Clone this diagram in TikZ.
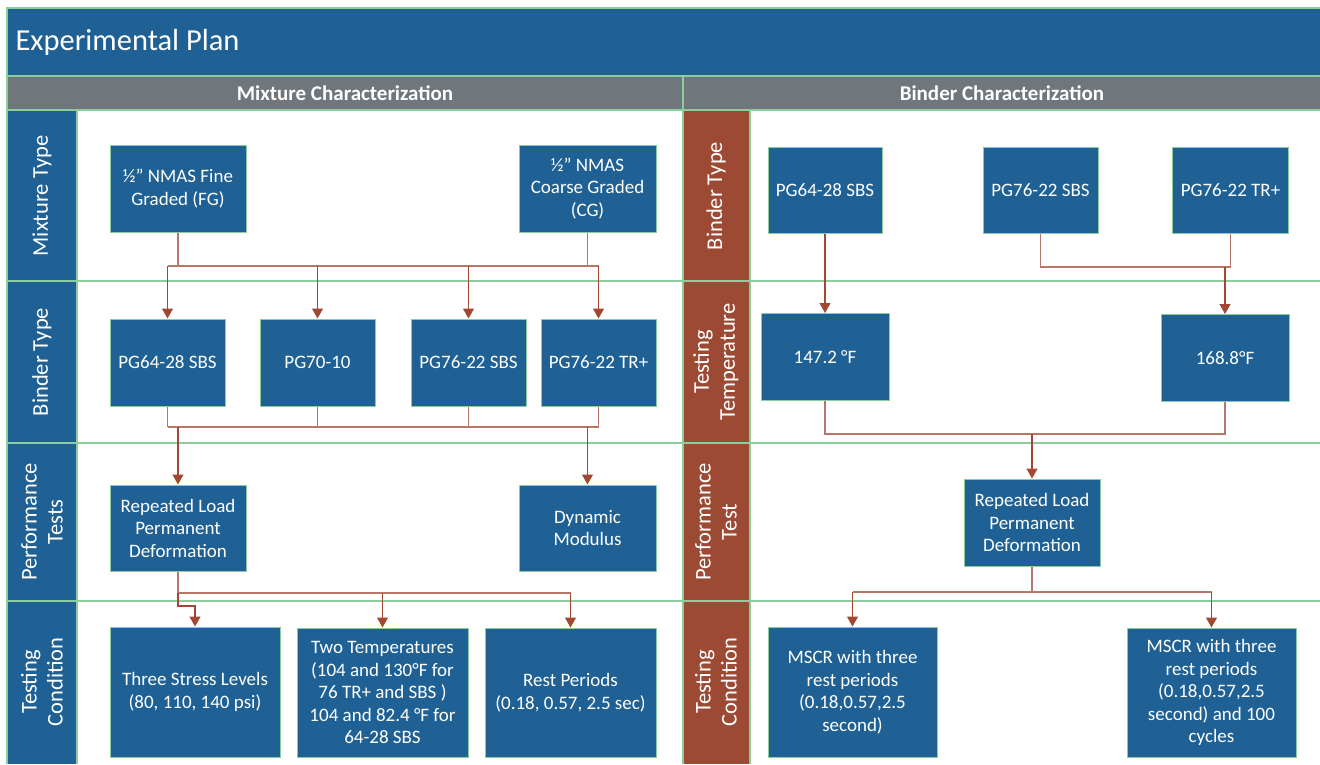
\documentclass[tikz,border=0pt]{standalone}
\usepackage{fontspec}
\setmainfont{Carlito}
\usetikzlibrary{arrows.meta}

\definecolor{planblue}{RGB}{31,97,148}
\definecolor{lanebrown}{RGB}{156,74,52}
\definecolor{headgray}{RGB}{111,118,124}
\definecolor{edgegreen}{RGB}{140,205,158}
\definecolor{wirecol}{RGB}{184,118,102}
\definecolor{arrcol}{RGB}{160,72,50}

\newcommand\boxfont{\fontsize{19}{22.5}\selectfont}
\newcommand\lanefont{\fontsize{22.5}{26}\selectfont}
\newcommand\headfont{\fontsize{21}{24}\selectfont\bfseries}

\begin{document}
\begin{tikzpicture}[
    x=1pt, y=-1pt,
    box/.style={draw=edgegreen, line width=1pt, fill=planblue, text=white,
      align=center, inner sep=2pt, font=\boxfont},
    lane/.style={rotate=90, text=white, align=center, font=\lanefont},
    wire/.style={draw=wirecol, line width=1.2pt},
    arr/.style={draw=arrcol, line width=1.2pt, -{Triangle[width=11pt,length=10pt]}},
    sep/.style={draw=edgegreen, line width=1.1pt}
  ]
  \useasboundingbox (0,0) rectangle (1320,764);

  % frame, title and headers
  \fill[planblue] (7,8) rectangle (1320,76);
  \fill[headgray] (7,76) rectangle (1320,110);
  \fill[planblue] (7,110) rectangle (77,764);
  \fill[lanebrown] (683,110) rectangle (750,764);
  \draw[sep] (7,764) -- (7,8) -- (1320,8);
  \draw[sep] (7,76) -- (1320,76);
  \draw[sep] (7,110) -- (1320,110);
  \foreach \y in {281,443,601}
    \draw[sep] (7,\y) -- (1320,\y);
  \draw[sep] (77,110) -- (77,764);
  \draw[sep] (683,76) -- (683,764);
  \draw[sep] (750,110) -- (750,764);

  \node[anchor=west, text=white, font=\fontsize{30.5}{34}\selectfont] (title) at (12,42) {Experimental Plan};
  \node[text=white, font=\headfont] (mixhead) at (345,93) {Mixture Characterization};
  \node[text=white, font=\headfont] (binhead) at (1002,93) {Binder Characterization};

  % lane labels
  \node[lane] (lmix) at (42,196) {Mixture Type};
  \node[lane] (lbin) at (42,362) {Binder Type};
  \node[lane] (lperf) at (42,522) {Performance\\Tests};
  \node[lane] (lcond) at (42,682) {Testing\\Condition};
  \node[lane] (rbin) at (716,196) {Binder Type};
  \node[lane] (rtemp) at (716,362) {Testing\\Temperature};
  \node[lane] (rperf) at (716,522) {Performance\\Test};
  \node[lane] (rcond) at (716,682) {Testing\\Condition};

  % mixture characterization
  \node[box, minimum width=136pt, minimum height=87pt] (fg) at (178,188.5) {½'' NMAS Fine\\Graded (FG)};
  \node[box, minimum width=137pt, minimum height=87pt] (cg) at (587.5,188.5) {½'' NMAS\\Coarse Graded\\(CG)};

  \node[box, minimum width=115pt, minimum height=87pt] (b1) at (167.5,362.5) {PG64-28 SBS};
  \node[box, minimum width=115pt, minimum height=87pt] (b2) at (317.5,362.5) {PG70-10};
  \node[box, minimum width=115pt, minimum height=87pt] (b3) at (468.5,362.5) {PG76-22 SBS};
  \node[box, minimum width=115pt, minimum height=87pt] (b4) at (598.5,362.5) {PG76-22 TR+};

  \node[box, minimum width=136pt, minimum height=86pt] (rl) at (178,528) {Repeated Load\\Permanent\\Deformation};
  \node[box, minimum width=137pt, minimum height=86pt] (dm) at (587.5,528) {Dynamic\\Modulus};

  \node[box, minimum width=170pt, minimum height=130pt] (ts) at (195,692) {Three Stress Levels\\(80, 110, 140 psi)};
  \node[box, minimum width=171pt, minimum height=129pt] (tt) at (382.5,692.5) {Two Temperatures\\(104 and 130°F for\\76 TR+ and SBS )\\104 and 82.4 °F for\\64-28 SBS};
  \node[box, minimum width=171pt, minimum height=129pt] (rp) at (570.5,692.5) {Rest Periods\\(0.18, 0.57, 2.5 sec)};

  % binder characterization
  \node[box, minimum width=114pt, minimum height=86pt] (r1) at (825,190) {PG64-28 SBS};
  \node[box, minimum width=115pt, minimum height=86pt] (r2) at (1040.5,190) {PG76-22 SBS};
  \node[box, minimum width=116pt, minimum height=86pt] (r3) at (1230.5,190) {PG76-22 TR+};

  \node[box, minimum width=128pt, minimum height=87pt] (t1) at (825,357) {147.2 °F};
  \node[box, minimum width=128pt, minimum height=87pt] (t2) at (1225,358) {168.8°F};

  \node[box, minimum width=136pt, minimum height=87pt] (rr) at (1032,522.5) {Repeated Load\\Permanent\\Deformation};

  \node[box, minimum width=169pt, minimum height=130pt] (m1) at (852.5,692) {MSCR with three\\rest periods\\(0.18,0.57,2.5\\second)};
  \node[box, minimum width=169pt, minimum height=129pt] (m2) at (1211.5,692.5) {MSCR with three\\rest periods\\(0.18,0.57,2.5\\second) and 100\\cycles};

  % connectors, mixture side
  \coordinate (busA) at (0,266);
  \coordinate (busB) at (0,427);
  \coordinate (busC) at (0,593);
  \draw[wire] (fg.south) -- (fg.south |- busA);
  \draw[wire] (cg.south) -- (cg.south |- busA);
  \draw[wire] (b1.north |- busA) -- (b4.north |- busA);
  \foreach \n in {b1,b2,b3,b4}
    \draw[arr] (\n.north |- busA) -- (\n.north);

  \foreach \n in {b1,b2,b3,b4}
    \draw[wire] (\n.south) -- (\n.south |- busB);
  \draw[wire] (b1.south |- busB) -- (b4.south |- busB);
  \draw[arr] (rl.north |- busB) -- (rl.north);
  \draw[arr] (dm.north |- busB) -- (dm.north);

  \draw[wire] (rl.south) -- (rl.south |- busC) -- (rp.north |- busC);
  \draw[arr] (rl.south |- busC) -- ++(0,13) -| (ts.north);
  \draw[arr] (tt.north |- busC) -- (tt.north);
  \draw[arr] (rp.north |- busC) -- (rp.north);

  % connectors, binder side
  \coordinate (busD) at (0,267);
  \coordinate (busE) at (0,434);
  \coordinate (busF) at (0,592);
  \draw[arr] (r1.south) -- (t1.north);
  \draw[wire] (r2.south) |- (r3.south |- busD) -- (r3.south);
  \draw[arr] (t2.north |- busD) -- (t2.north);

  \draw[wire] (t1.south) |- (t2.south |- busE) -- (t2.south);
  \draw[arr] (rr.north |- busE) -- (rr.north);

  \draw[wire] (rr.south) -- (rr.south |- busF);
  \draw[wire] (m1.north |- busF) -- (m2.north |- busF);
  \draw[arr] (m1.north |- busF) -- (m1.north);
  \draw[arr] (m2.north |- busF) -- (m2.north);
\end{tikzpicture}
\end{document}
